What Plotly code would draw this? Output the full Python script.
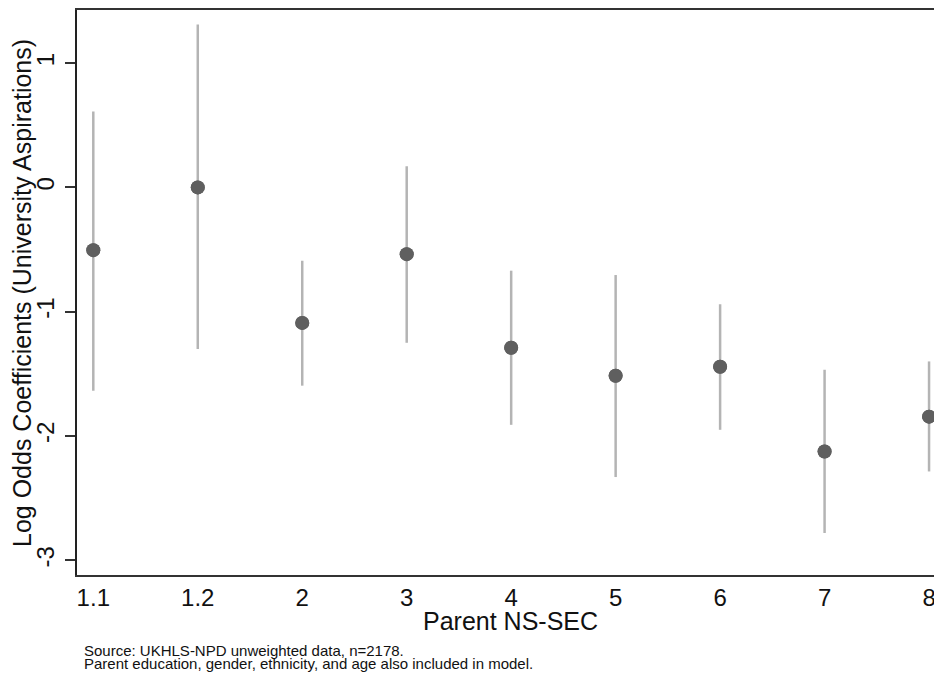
import plotly.graph_objects as go

categories = ["1.1", "1.2", "2", "3", "4", "5", "6", "7", "8"]
coef = [-0.505, 0.0, -1.09, -0.537, -1.29, -1.515, -1.443, -2.124, -1.844]
ci_upper = [0.61, 1.31, -0.59, 0.17, -0.67, -0.705, -0.94, -1.467, -1.40]
ci_lower = [-1.635, -1.30, -1.595, -1.25, -1.91, -2.33, -1.95, -2.78, -2.285]
y_ticks = [1, 0, -1, -2, -3]
y_tick_labels = ["1", "0", "-1", "-2", "-3"]
x_title = "Parent NS-SEC"
y_title = "Log Odds Coefficients (University Aspirations)"
notes = ["Source: UKHLS-NPD unweighted data, n=2178.",
         "Parent education, gender, ethnicity, and age also included in model."]

xs = list(range(len(categories)))
err_plus = [u - c for u, c in zip(ci_upper, coef)]
err_minus = [c - l for c, l in zip(coef, ci_lower)]

fig = go.Figure()
fig.add_trace(go.Scatter(
    x=xs, y=coef, mode="markers",
    marker=dict(size=14, color="#5f5f5f"),
    error_y=dict(type="data", symmetric=False, array=err_plus, arrayminus=err_minus,
                 width=0, thickness=2.5, color="#b4b4b4"),
    showlegend=False,
))
fig.add_trace(go.Scatter(
    x=xs, y=coef, mode="markers",
    marker=dict(size=14, color="#5f5f5f"),
    showlegend=False,
))

font = "Liberation Sans, Arial, sans-serif"
# page body adds an 8px offset; figure sized to compensate
W, H = 934, 668
L, R, T, B = 69, 0, 0, 101
pw, ph = W - L - R, H - T - B

def px(xp):
    return (xp - 8 - L) / pw

def py(yp):
    return (H - B - (yp - 8)) / ph

annotations = [
    dict(text=x_title, xref="paper", yref="paper", x=px(510), y=py(621),
         xanchor="center", yanchor="middle", showarrow=False,
         font=dict(size=25, color="#111111", family=font)),
    dict(text=y_title, xref="paper", yref="paper", x=px(22), y=py(292),
         xanchor="center", yanchor="middle", textangle=-90, showarrow=False,
         font=dict(size=25, color="#111111", family=font)),
]
for t, yy in zip(notes, [651, 664]):
    annotations.append(dict(text=t, xref="paper", yref="paper", x=px(82), y=py(yy),
                            xanchor="left", yanchor="middle", showarrow=False,
                            font=dict(size=15, color="#111111", family=font)))

fig.update_layout(
    width=W, height=H,
    margin=dict(l=L, r=R, t=T, b=B),
    paper_bgcolor="white", plot_bgcolor="white",
    font=dict(family=font, color="#111111"),
    xaxis=dict(
        range=[-0.156, 8.124], tickmode="array", tickvals=xs, ticktext=categories,
        showgrid=False, zeroline=False, showline=True, linecolor="#333333", linewidth=2,
        mirror=True, ticks="", tickfont=dict(size=24),
    ),
    yaxis=dict(
        range=[-3.118, 1.427], tickmode="array", tickvals=y_ticks, ticktext=y_tick_labels,
        showgrid=False, zeroline=False, showline=True, linecolor="#222222", linewidth=2,
        ticks="outside", ticklen=10, tickwidth=1.5, tickcolor="#333333",
        tickangle=-90, tickfont=dict(size=24), ticklabelstandoff=1,
    ),
    annotations=annotations,
)

fig.write_html("out.html")
